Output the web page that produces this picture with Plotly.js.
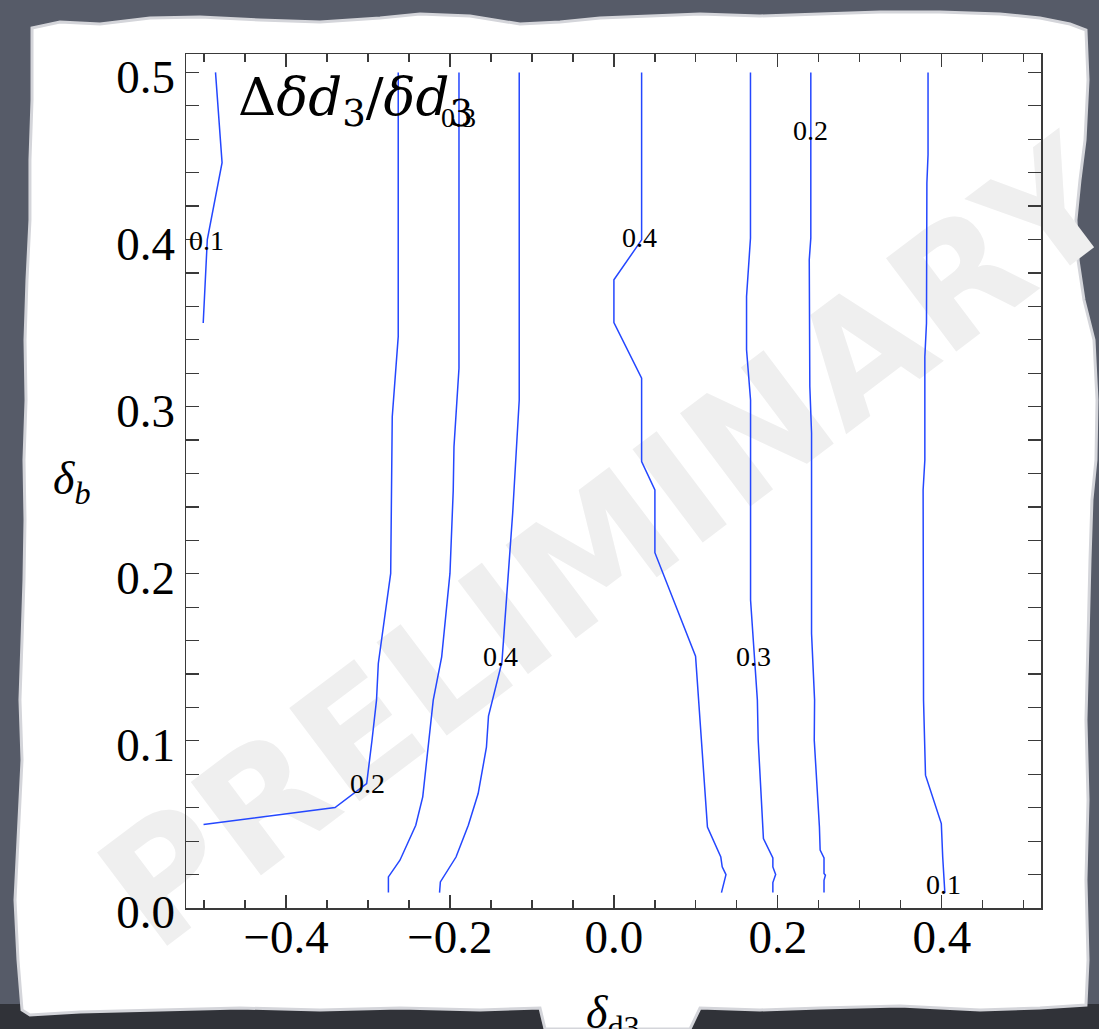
<!DOCTYPE html>
<html><head><meta charset="utf-8">
<script src="https://cdn.plot.ly/plotly-3.0.1.min.js"></script>
<style>html,body{margin:0;padding:0;background:#565b68;}#chart{width:1099px;height:1029px;}</style>
</head><body><div id="chart"></div>
<script>
// ---------------- data ----------------
const lineA_x = [-0.501, -0.496, -0.478, -0.486];
const lineA_y = [0.350, 0.400, 0.446, 0.500];
const lineB_x = [-0.2631, -0.2631, -0.2704, -0.2723, -0.2874, -0.2896, -0.2951, -0.2995, -0.3016, -0.3402, -0.5006];
const lineB_y = [0.5, 0.3419, 0.294, 0.2002, 0.1463, 0.1244, 0.1004, 0.0805, 0.0745, 0.0601, 0.0499];
const lineC_x = [-0.189, -0.189, -0.1951, -0.196, -0.2, -0.2101, -0.2204, -0.2259, -0.2332, -0.2417, -0.261, -0.2751, -0.2751];
const lineC_y = [0.5, 0.323, 0.276, 0.25, 0.2002, 0.1503, 0.1244, 0.0984, 0.0665, 0.0495, 0.0286, 0.0186, 0.0092];
const lineD_x = [-0.1155, -0.1155, -0.1235, -0.1289, -0.1366, -0.1530, -0.1555, -0.1656, -0.1776, -0.1926, -0.2117, -0.2127];
const lineD_y = [0.5, 0.304, 0.2362, 0.2002, 0.1471, 0.1148, 0.0962, 0.0685, 0.0495, 0.0305, 0.0156, 0.0092];
const lineE_x = [0.0338, 0.0338, 0.0, 0.0, 0.0338, 0.0338, 0.05, 0.05, 0.0996, 0.1034, 0.1141, 0.1304, 0.1321, 0.1367, 0.1312];
const lineE_y = [0.5, 0.3998, 0.3759, 0.3503, 0.317, 0.2671, 0.2501, 0.2126, 0.1507, 0.1244, 0.0485, 0.0305, 0.0246, 0.02, 0.0092];
const lineF_x = [0.1666, 0.1666, 0.1618, 0.1618, 0.1667, 0.1667, 0.175, 0.176, 0.1824, 0.1939, 0.1939, 0.1973, 0.1939, 0.1939];
const lineF_y = [0.5, 0.4008, 0.3659, 0.334, 0.304, 0.1843, 0.1244, 0.1004, 0.0416, 0.0299, 0.0246, 0.02, 0.0152, 0.0092];
const lineG_x = [0.2402, 0.2402, 0.2383, 0.239, 0.2411, 0.2411, 0.2448, 0.2444, 0.2507, 0.2516, 0.2563, 0.2563, 0.258, 0.2563, 0.2563];
const lineG_y = [0.5, 0.4008, 0.3879, 0.312, 0.2841, 0.1643, 0.1244, 0.1004, 0.0485, 0.0346, 0.0299, 0.0206, 0.0196, 0.0166, 0.0092];
const lineH_x = [0.3832, 0.3832, 0.3818, 0.3813, 0.3793, 0.3793, 0.3772, 0.3777, 0.3801, 0.3994, 0.4011, 0.4037];
const lineH_y = [0.5, 0.4507, 0.4338, 0.3499, 0.3299, 0.2681, 0.2501, 0.1244, 0.0795, 0.0505, 0.0305, 0.0092];

const labelText = ['0.1', '0.3', '0.2', '0.4', '0.4', '0.3', '0.2', '0.1'];
const labelX = [-0.4976, -0.189, -0.3007, -0.1378, 0.0317, 0.1699, 0.2402, 0.402];
const labelY = [0.401, 0.4747, 0.0765, 0.1523, 0.4028, 0.1523, 0.4671, 0.016];

const xTickVals = [-0.4, -0.2, 0.0, 0.2, 0.4];
const xTickText = ['\u22120.4', '\u22120.2', '0.0', '0.2', '0.4'];
const yTickVals = [0.0, 0.1, 0.2, 0.3, 0.4, 0.5];
const yTickText = ['0.0', '0.1', '0.2', '0.3', '0.4', '0.5'];

const titleText = '\u0394<i>\u03b4d</i><sub>3</sub>/<i>\u03b4d</i><sub>3</sub>';
const xTitleText = '<i>\u03b4</i><sub>d3</sub>';
const yTitleText = '<i>\u03b4</i><sub><i>b</i></sub>';
const watermarkText = 'PRELIMINARY';

// ---------------- style ----------------
const W = 1099, H = 1029;
const L = 186, R = 1041, T = 54, B = 908;
const px = (x) => (x - L) / (R - L);
const py = (y) => (B - y) / (B - T);
const BLUE = '#2447ff';
const FRAME = '#3a3a3a';
const SERIF = 'Liberation Serif, Times New Roman, serif';
const XRANGE = [-0.522, 0.521];

const paperEdge = [
  [32,28],[60,22],[100,24],[150,18],[200,17],[260,20],[320,22],[380,18],[420,14],[470,16],[520,24],[560,22],
  [600,18],[650,16],[700,14],[760,16],[820,14],[880,12],[940,12],[1000,14],[1040,18],[1070,24],[1086,30],
  [1088,80],[1085,140],[1080,180],[1076,220],[1078,260],[1084,300],[1094,340],[1097,400],[1096,460],
  [1092,500],[1090,560],[1088,640],[1086,720],[1088,800],[1086,880],[1088,960],[1086,1005],
  [1040,1008],[980,1010],[900,1006],[820,1008],[760,1010],[700,1008],[690,1029],[545,1029],[540,1008],
  [480,1010],[400,1008],[320,1010],[240,1008],[160,1010],[80,1012],[30,1015],
  [22,1010],[18,960],[15,900],[18,840],[22,760],[20,700],[22,640],[24,580],[25,520],[24,460],[26,400],
  [25,340],[27,280],[30,220],[30,160],[32,100]
];
const paperPath = 'M ' + paperEdge.map(p => px(p[0]).toFixed(4) + ',' + py(p[1]).toFixed(4)).join(' L ') + ' Z';

const lines = [
  [lineA_x, lineA_y], [lineB_x, lineB_y], [lineC_x, lineC_y], [lineD_x, lineD_y],
  [lineE_x, lineE_y], [lineF_x, lineF_y], [lineG_x, lineG_y], [lineH_x, lineH_y]
];
const traces = lines.map(l => ({
  type: 'scatter', mode: 'lines', x: l[0], y: l[1],
  line: {color: BLUE, width: 1.5}, hoverinfo: 'skip'
}));
// empty carrier so the tick-label axis is drawn
traces.push({type: 'scatter', mode: 'lines', x: [], y: [], xaxis: 'x2', yaxis: 'y', hoverinfo: 'skip'});

const annotations = labelText.map((t, i) => ({
  text: t, x: labelX[i], y: labelY[i], xref: 'x', yref: 'y', showarrow: false,
  xanchor: 'center', yanchor: 'middle', yshift: -3,
  font: {family: SERIF, size: 28, color: '#000'}
}));
annotations.push({
  text: titleText, xref: 'paper', yref: 'paper', x: px(236), y: py(101), xanchor: 'left', yanchor: 'middle',
  showarrow: false, font: {family: 'DejaVu Serif, serif', size: 53, color: '#000'}
});
annotations.push({
  text: yTitleText, xref: 'paper', yref: 'paper', x: px(71), y: py(482), xanchor: 'center', yanchor: 'middle',
  showarrow: false, font: {family: SERIF, size: 46, color: '#000'}
});
annotations.push({
  text: xTitleText, xref: 'paper', yref: 'paper', x: px(613), y: py(985), xanchor: 'center', yanchor: 'top',
  showarrow: false, font: {family: SERIF, size: 46, color: '#000'}
});

const shapes = [
  {type: 'rect', xref: 'paper', yref: 'paper', x0: px(0), x1: px(W), y0: py(1004), y1: py(H),
   fillcolor: '#303238', line: {width: 0}, layer: 'below'},
  {type: 'path', xref: 'paper', yref: 'paper', path: paperPath, fillcolor: '#ffffff',
   line: {color: '#d4d5da', width: 3}, layer: 'below'},
  {type: 'rect', xref: 'paper', yref: 'paper', x0: px(597), x1: px(607), y0: py(540), y1: py(530),
   fillcolor: 'rgba(0,0,0,0)', line: {width: 0}, layer: 'below',
   label: {text: watermarkText, textangle: -37, textposition: 'middle center',
           font: {family: 'DejaVu Sans, sans-serif', size: 160, color: '#efefef', weight: 'bold'}}}
];

const axisCommon = {
  ticks: 'inside', ticklen: 13, tickwidth: 1.2, tickcolor: FRAME,
  showline: true, linecolor: FRAME, linewidth: 1.5, mirror: 'allticks',
  showgrid: false, zeroline: false, fixedrange: true,
  tickfont: {family: SERIF, size: 47, color: '#000'}
};

const layout = {
  width: W, height: H,
  margin: {l: L, r: W - R, t: T, b: H - B, pad: 0},
  paper_bgcolor: '#565b68', plot_bgcolor: 'rgba(0,0,0,0)',
  showlegend: false,
  xaxis: Object.assign({}, axisCommon, {
    range: XRANGE, tickmode: 'array', tickvals: xTickVals, showticklabels: false,
    minor: {tickmode: 'linear', tick0: 0, dtick: 0.05, ticks: 'inside', ticklen: 8, tickwidth: 1.2, tickcolor: FRAME, showgrid: false}
  }),
  xaxis2: {
    overlaying: 'x', anchor: 'free', position: 0.003, side: 'bottom', range: XRANGE,
    tickmode: 'array', tickvals: xTickVals, ticktext: xTickText, ticks: '', showline: false,
    showgrid: false, zeroline: false, fixedrange: true,
    tickfont: {family: SERIF, size: 47, color: '#000'}
  },
  yaxis: Object.assign({}, axisCommon, {
    range: [0, 0.511], tickmode: 'array', tickvals: yTickVals, ticktext: yTickText, ticklabelstandoff: 0, ticklabelshift: 4,
    minor: {tickmode: 'linear', tick0: 0, dtick: 0.02, ticks: 'inside', ticklen: 8, tickwidth: 1.2, tickcolor: FRAME, showgrid: false}
  }),
  annotations: annotations,
  shapes: shapes
};

Plotly.newPlot('chart', traces, layout, {displayModeBar: false, staticPlot: true});
</script>
</body></html>
